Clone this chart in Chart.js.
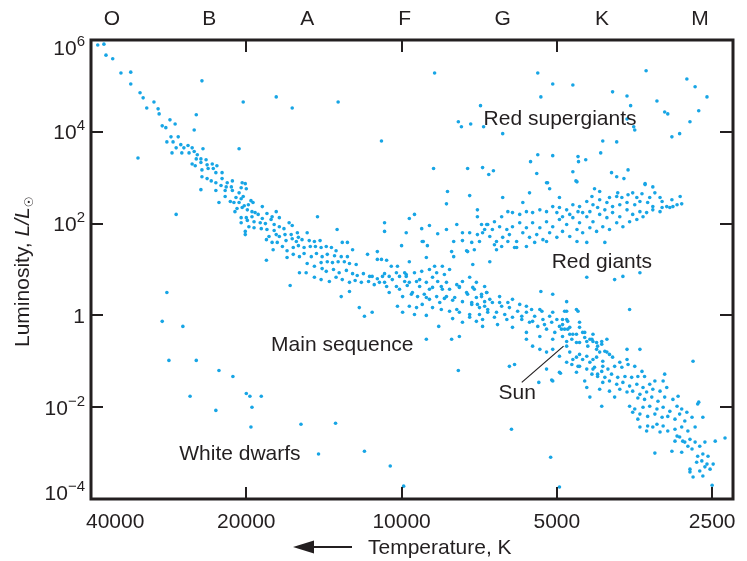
<!DOCTYPE html>
<html>
<head>
<meta charset="utf-8">
<title>Hertzsprung-Russell diagram</title>
<script src="https://cdn.jsdelivr.net/npm/chart.js@4.4.0/dist/chart.umd.min.js"></script>
<style>
  html, body { margin: 0; padding: 0; background: #fff; }
  canvas { display: block; }
</style>
</head>
<body>
<canvas id="hrChart" width="747" height="561"></canvas>
<script>
// Star positions, as [log10 T (K), log10 L/Lsun]

const upperMainSequence = [
  [4.589,5.89],[4.577,5.91],[4.573,5.67],[4.560,5.59],[4.544,5.28],[4.525,5.30],[4.525,5.04],[4.507,4.85],[4.501,4.74],[4.480,4.65],
  [4.494,4.52],[4.472,4.50],[4.470,4.39],[4.449,4.26],[4.439,4.17],[4.464,4.13],[4.457,4.09],
  [4.447,3.89],[4.433,3.89],[4.455,3.78],[4.443,3.78],[4.428,3.72],[4.414,3.70],[4.437,3.65],[4.422,3.65],[4.406,3.65],[4.445,3.54],
  [4.426,3.54],[4.412,3.54],[4.402,3.57],[4.385,3.63],[4.396,3.50],[4.398,3.41],[4.389,3.41],[4.379,3.39],[4.406,3.30],[4.400,3.26],
  [4.389,3.33],[4.377,3.28],[4.367,3.30],[4.358,3.26],[4.387,3.17],[4.375,3.20],[4.365,3.20],[4.360,3.11],[4.348,3.11],[4.387,3.02],
  [4.377,2.98],[4.369,2.93],[4.360,2.89],[4.348,2.98],[4.338,2.89],[4.328,2.93],[4.350,2.83],[4.340,2.80],[4.330,2.80],[4.309,2.89],
  [4.303,2.87],[4.311,2.78],[4.301,2.76],[4.360,2.72],[4.342,2.72],[4.328,2.72],[4.315,2.67],[4.342,2.59],[4.332,2.48],[4.321,2.57],
  [4.311,2.54],[4.307,2.59],[4.354,2.46],[4.325,2.46],[4.315,2.46],[4.305,2.39],[4.297,2.41],[4.292,2.50],[4.288,2.46],[4.319,2.33],
  [4.309,2.35],[4.299,2.30],[4.284,2.24],[4.270,2.37],[4.290,2.26],[4.323,2.26],[4.311,2.13],[4.301,2.13],[4.290,2.15],[4.278,2.20],
  [4.270,2.11],[4.261,2.22],[4.251,2.15],[4.243,2.26],[4.237,2.13],[4.311,2.02],[4.299,2.07],[4.286,2.04],[4.274,2.02],[4.264,2.00],
  [4.253,2.09],[4.247,1.98],[4.237,1.93],[4.228,1.89],[4.218,2.02],[4.212,1.96],[4.296,1.93],[4.303,1.83],[4.303,1.76],[4.286,1.91],
  [4.272,1.89],[4.261,1.87],[4.247,1.85],[4.257,1.72],[4.243,1.76],[4.237,1.72],[4.226,1.76],[4.214,1.76],[4.202,1.80],[4.183,1.80],
  [4.200,1.70],[4.262,1.65],[4.251,1.59],[4.241,1.59],[4.224,1.63],[4.212,1.67],[4.204,1.61],[4.193,1.65],[4.179,1.63],[4.169,1.61],
  [4.158,1.63],[4.249,1.43],[4.231,1.50],[4.222,1.41],[4.210,1.48],[4.200,1.52],[4.189,1.48],[4.177,1.50],[4.167,1.50],[4.156,1.48],
  [4.146,1.50],[4.136,1.48],[4.127,1.41],[4.115,1.59],[4.105,1.59],[4.222,1.26],[4.210,1.33],[4.198,1.28],[4.189,1.35],[4.175,1.28],
  [4.165,1.35],[4.154,1.28],[4.144,1.33],[4.130,1.30],[4.117,1.28],[4.105,1.28],[4.095,1.43],[4.156,1.15],[4.144,1.17],[4.134,1.15],
  [4.123,1.17],[4.111,1.17],[4.101,1.13],[4.088,1.11],[4.183,1.13],[4.169,1.07],[4.154,1.02],[4.146,0.96],[4.132,1.00],[4.121,0.93],
  [4.107,0.98],[4.095,0.91],[4.086,0.87],[4.074,0.91],[4.062,0.85],[4.057,0.85],[4.047,0.80],[4.037,0.85],[4.033,0.91],[4.198,0.93],
  [4.185,0.93],[4.169,0.83],[4.156,0.78],[4.140,0.74],[4.127,0.83],[4.115,0.78],[4.101,0.72],[4.090,0.76],[4.078,0.72],[4.064,0.74],
  [4.053,0.67],[4.043,0.72],[4.029,0.63],[4.216,0.65]
];

const middleMainSequence = [
  [4.008,1.07],[4.010,0.93],[4.024,0.85],[4.004,0.85],[3.991,0.89],[3.975,0.93],[3.961,0.96],[3.946,1.00],[3.932,0.93],[3.917,0.89],
  [3.907,1.00],[3.868,0.83],[3.882,0.74],[3.893,0.67],[3.855,0.72],[3.839,0.63],[4.010,0.63],[3.994,0.74],[3.989,0.65],[3.971,0.74],
  [3.965,0.63],[3.952,0.72],[3.940,0.61],[3.930,0.74],[3.921,0.57],[3.907,0.57],[3.888,0.61],[3.874,0.50],[3.859,0.57],[3.845,0.46],
  [3.835,0.50],[4.024,0.50],[3.998,0.41],[3.981,0.46],[3.969,0.41],[3.956,0.46],[3.946,0.35],[3.932,0.41],[3.917,0.37],[3.901,0.33],
  [3.882,0.30],[3.864,0.28],[3.853,0.24],[3.839,0.20],[4.008,0.20],[3.985,0.20],[3.971,0.17],[3.960,0.24],[3.940,0.17],[3.923,0.13],
  [3.907,0.09],[3.888,0.07],[3.868,0.02],[3.849,0.02],[3.833,0.07],[3.998,0.07],[3.975,0.02],[3.952,0.00],[3.928,-0.24],[3.901,-0.07],
  [3.882,-0.15],[3.855,-0.13],[3.843,-0.24],
  [3.824,0.28],[3.816,0.07],[3.806,0.20],[3.800,0.02],[3.791,0.17],[3.785,-0.04],[3.775,0.09],[3.767,-0.09],[3.758,0.07],[3.752,-0.15],
  [3.742,-0.02],[3.736,-0.24],[3.726,-0.09],[3.719,-0.30],[3.709,-0.15],[3.703,-0.37],[3.694,-0.24],[3.688,-0.46],[3.678,-0.30],[3.670,-0.52],
  [3.661,-0.41],[3.655,-0.59],[3.645,-0.48],[3.639,-0.67],[3.629,-0.57],[3.622,-0.74],[3.612,-0.63],[3.602,-0.80],[3.814,-0.20],[3.785,-0.26],
  [3.758,-0.37],[3.732,-0.46],[3.707,-0.52],[3.680,-0.67],[3.655,-0.85],[3.629,-0.96],[3.610,-1.11],[3.810,0.41],[3.785,0.35],[3.758,0.20],
  [3.732,0.13],[3.707,0.07],[3.680,-0.09],[3.655,-0.26],[3.629,-0.41],[3.602,-0.52],
  [4.020,1.07],[3.994,0.93],[3.985,0.72],[3.946,0.57],[3.923,0.63],[3.913,0.41],[3.897,0.39],[3.872,0.46],[3.864,0.24],[3.855,0.39],
  [3.849,0.17],[3.839,0.30],[3.833,0.13],[4.004,0.57],[3.979,0.50],[3.952,0.39],[3.926,0.28],[3.893,0.13],[3.868,-0.04],[3.843,-0.09],
  [4.033,0.72],[4.018,0.78],[3.991,0.85],[3.965,0.78],[3.940,0.83],[3.913,0.72],[3.888,0.63],[3.862,0.61],[3.835,0.50],
  [3.845,0.41],[3.829,0.35],[3.820,-0.04],[3.810,0.28],[3.796,-0.09],[3.794,0.28],[3.771,0.24],[3.767,-0.02],[3.748,0.13],[3.746,-0.13],
  [3.728,0.09],[3.723,-0.20],[3.713,-0.02],[3.699,-0.09],[3.690,-0.30],[3.688,-0.20],[3.674,-0.41],[3.680,-0.57],[3.661,-0.59],[3.649,-0.37],
  [3.635,-0.52],[3.622,-0.59],[3.616,-0.80],[3.641,-0.89],[3.668,-0.96],[3.758,-0.52],[3.746,-0.67],[3.732,-0.74],[3.719,-0.80],[3.707,-0.74],
  [3.694,-0.89],[3.680,-1.02],[3.655,-1.11],[3.629,-1.17],[3.620,-1.28],[3.707,0.46],[3.680,0.30],[3.684,0.09],[3.661,0.13],[3.655,-0.15],
  [3.730,0.52]
];

const lowerMainSequence = [
  [3.680,0.09],[3.658,0.09],[3.688,-0.09],[3.678,-0.13],[3.684,-0.30],[3.674,-0.26],[3.668,-0.41],[3.645,-0.37],[3.631,-0.52],[3.612,-0.57],
  [3.641,-0.57],[3.620,-0.67],[3.606,-0.78],[3.597,-0.85],[3.563,-0.74],[3.538,-0.74],[3.674,-0.80],[3.661,-0.91],[3.649,-0.96],[3.635,-1.02],
  [3.622,-0.91],[3.610,-1.00],[3.591,-0.91],[3.577,-1.02],[3.563,-0.96],[3.670,-1.07],[3.658,-1.11],[3.641,-1.17],[3.626,-1.13],[3.612,-1.22],
  [3.600,-1.17],[3.587,-1.11],[3.573,-1.13],[3.561,-1.07],[3.548,-1.11],[3.534,-1.22],[3.529,-1.33],[3.631,-1.28],[3.620,-1.33],[3.606,-1.35],
  [3.593,-1.28],[3.581,-1.35],[3.567,-1.33],[3.554,-1.35],[3.542,-1.33],[3.645,-1.43],[3.610,-1.46],[3.597,-1.43],[3.583,-1.50],[3.571,-1.46],
  [3.558,-1.54],[3.544,-1.50],[3.532,-1.57],[3.519,-1.50],[3.509,-1.43],[3.490,-1.28],[3.493,-1.43],[3.641,-1.57],[3.616,-1.61],[3.597,-1.65],
  [3.577,-1.61],[3.563,-1.67],[3.552,-1.65],[3.538,-1.72],[3.525,-1.67],[3.513,-1.61],[3.499,-1.65],[3.486,-1.57],[3.587,-1.78],[3.542,-1.80],
  [3.529,-1.83],[3.515,-1.78],[3.503,-1.87],[3.490,-1.78],[3.474,-1.83],[3.464,-1.76],[3.635,-1.78],[3.612,-1.98],[3.558,-1.98],[3.548,-2.04],
  [3.532,-2.00],[3.519,-1.98],[3.505,-2.04],[3.493,-2.00],[3.480,-2.09],[3.466,-1.98],[3.457,-2.04],[3.447,-2.11],[3.426,-1.93],[3.538,-2.15],
  [3.523,-2.20],[3.509,-2.15],[3.495,-2.22],[3.484,-2.20],[3.470,-2.26],[3.461,-2.15],[3.451,-2.30],[3.437,-2.22],[3.538,-2.43],[3.523,-2.41],
  [3.505,-2.37],[3.493,-2.41],[3.484,-2.52],[3.470,-2.48],[3.457,-2.43],[3.445,-2.52],[3.431,-2.43],[3.416,-2.22],[3.499,-2.54],[3.470,-2.74],
  [3.461,-2.65],[3.451,-2.76],[3.441,-2.70],[3.431,-2.76],[3.422,-2.85],[3.412,-2.76],[3.392,-2.74],[3.373,-2.67],[3.509,-3.00],[3.476,-2.96],
  [3.457,-2.98],[3.437,-2.91],[3.426,-3.07],[3.416,-3.02],[3.406,-3.07],[3.428,-3.20],[3.418,-3.17],[3.408,-3.24],[3.396,-3.24],[3.441,-3.35],
  [3.422,-3.39],[3.412,-3.30],[3.441,-3.41],[3.435,-3.52],[3.416,-3.50],[3.398,-3.70],[3.402,-3.35],
  [3.734,-1.46],[3.707,-1.43],[3.692,-1.26],[3.661,-1.24],[3.552,-2.11],[3.542,-2.26],[3.525,-2.52],[3.513,-2.43],[3.466,-2.63],[3.455,-2.74],
  [3.445,-2.85],[3.424,-1.89]
];

const redGiants = [
  [3.717,2.89],[3.660,2.91],[3.713,2.76],[3.752,2.67],[3.804,2.57],[3.765,2.46],[3.694,2.57],[3.626,2.76],[3.616,2.70],[3.631,2.59],
  [3.583,2.59],[3.573,2.57],[3.552,2.67],[3.534,2.65],[3.528,2.85],[3.513,2.80],[3.509,2.67],[3.499,2.57],[3.460,2.59],[3.457,2.43],
  [3.474,2.37],[3.480,2.35],[3.495,2.35],[3.513,2.37],[3.523,2.46],[3.538,2.48],[3.548,2.41],[3.563,2.46],[3.577,2.41],[3.591,2.37],
  [3.602,2.46],[3.616,2.52],[3.629,2.41],[3.641,2.48],[3.655,2.37],[3.668,2.41],[3.680,2.30],[3.694,2.35],[3.707,2.37],[3.719,2.26],
  [3.732,2.30],[3.746,2.24],[3.758,2.26],[3.771,2.20],[3.785,2.24],[3.794,2.26],[3.806,2.15],[3.820,2.04],[3.833,1.98],[3.845,1.98],
  [3.843,1.80],[3.824,1.87],[3.810,1.93],[3.796,1.87],[3.785,1.93],[3.771,2.02],[3.758,1.91],[3.746,2.02],[3.732,1.91],[3.719,2.04],
  [3.707,1.93],[3.694,2.09],[3.680,1.98],[3.668,2.13],[3.655,2.02],[3.641,2.15],[3.629,2.04],[3.616,2.20],[3.602,2.13],[3.591,2.24],
  [3.577,2.15],[3.563,2.30],[3.552,2.20],[3.538,2.26],[3.525,2.24],[3.513,2.30],[3.499,2.26],[3.829,1.72],[3.816,1.61],[3.804,1.70],
  [3.791,1.76],[3.777,1.61],[3.765,1.80],[3.752,1.70],[3.738,1.76],[3.726,1.65],[3.713,1.80],[3.699,1.70],[3.688,1.83],[3.674,1.72],
  [3.660,1.87],[3.649,1.80],[3.635,1.91],[3.622,1.83],[3.610,1.93],[3.597,1.87],[3.583,2.02],[3.571,1.93],[3.558,2.04],[3.544,2.09],
  [3.532,2.15],[3.816,1.43],[3.781,1.48],[3.606,1.59],[3.641,1.59],[3.829,1.17],[3.641,0.83],[3.587,0.78],[3.571,0.85],[3.538,0.93],
  [3.486,2.37],[3.476,2.52],[3.466,2.41],[3.495,2.48],[3.519,2.57],[3.544,2.57],[3.561,2.63],[3.581,2.67],[3.597,2.57],[3.606,2.30],
  [3.620,2.35],[3.635,2.26],[3.649,2.24],[3.658,2.26],[3.674,2.20],[3.688,2.15],[3.699,2.24],
  [4.033,2.02],[4.033,1.83],[3.991,1.80],[3.975,2.20],[3.985,2.11],[3.961,1.89],[3.946,1.96],[3.958,1.61],[3.930,1.78],[3.911,2.70],
  [3.913,2.43],[3.868,2.61],[3.835,1.98],[3.853,2.15],[3.853,2.30],[3.893,1.98],[3.913,1.87],[3.882,1.80],[3.868,1.80],[3.853,1.76],
  [3.839,1.87],[3.899,1.61],[3.882,1.63],[3.864,1.59],[3.849,1.61],[3.950,1.52],[4.000,1.52],[3.903,1.39],[3.874,1.41],[3.859,1.43],
  [3.899,1.28],[3.985,1.17],[3.952,1.26],[3.936,1.07],[3.921,1.07],[4.047,1.39],[4.029,1.20],[4.039,1.22],
  [3.960,1.61],[3.872,1.39],[3.862,1.11],[3.820,1.54],[3.806,1.50],[3.777,1.48],[3.794,1.61],[3.758,1.50],[3.742,1.59],[3.719,1.61],
  [3.660,1.61]
];

const redSupergiants = [
  [3.936,5.28],[3.847,4.57],[3.890,4.22],[3.884,4.11],[3.866,4.17],[3.841,4.11],[3.938,3.20],[3.872,3.20],[3.843,3.22],[3.831,3.07],
  [3.736,5.28],[3.707,5.04],[3.668,5.02],[3.730,4.76],[3.804,3.96],[3.591,4.87],[3.563,4.78],[3.556,4.57],[3.526,5.33],[3.505,4.67],
  [3.490,4.43],[3.484,4.39],[3.447,5.15],[3.431,4.98],[3.408,4.76],[3.424,4.46],[3.441,4.22],[3.563,4.28],[3.550,4.11],[3.548,4.04],
  [3.610,3.80],[3.583,3.78],[3.476,3.89],[3.461,3.96],[3.736,3.50],[3.707,3.48],[3.658,3.46],[3.657,3.35],[3.643,3.39],[3.614,3.54],
  [3.750,3.35],[3.822,3.15],[3.738,3.09],[3.719,2.89],[3.668,3.13],[3.662,2.93],[3.593,3.11],[3.583,3.02],[3.569,2.98],[3.561,3.17],
  [3.528,2.87]
];

const scatteredStars = [
  [4.387,5.11],[4.398,4.37],[4.402,4.04],[4.511,3.43],[4.389,2.74],[4.437,2.20],
  [4.307,4.65],[4.243,4.76],[4.212,4.52],[4.123,4.65],[4.315,3.63],[4.039,3.80],
  [4.163,2.15],[4.125,1.87],[4.262,1.20],[4.117,0.41],[4.101,0.52],[4.072,-0.02],[4.057,0.07],[4.082,0.17],
  [4.066,1.33],[4.047,1.22],[3.903,-0.52],[3.888,-0.46],[3.952,-0.52],[3.791,-1.11],[3.781,-1.07],[3.719,-1.17],
  [3.709,-1.41],[3.694,-1.24],[3.890,-1.20],[3.558,0.13],[3.435,-1.00]
];

const whiteDwarfs = [
  [4.455,0.50],[4.464,-0.13],[4.424,-0.24],[4.451,-0.98],[4.398,-0.98],[4.354,-1.20],[4.327,-1.33],[4.410,-1.76],
  [4.360,-2.07],[4.301,-1.70],[4.294,-1.76],[4.272,-1.76],[4.290,-2.00],[4.292,-2.43],[4.195,-2.37],[4.128,-2.35],
  [4.161,-3.02],[4.072,-2.96],[4.022,-3.28],[3.996,-3.72],[3.787,-2.48],[3.711,-3.09],[3.694,-3.74]
];

// axes
const tempTicks = [40000, 20000, 10000, 5000, 2500];
const bottomTickMarks = [20000, 10000, 5000, 2500];
const topTickMarks = [20000, 10000, 5000];
const lumExponents = [6, 4, 2, 0, -2, -4];
const spectralClasses = ['O', 'B', 'A', 'F', 'G', 'K', 'M'];
const spectralTemps = [36450, 23600, 15240, 9860, 6370, 4090, 2640];

// region names: [text, log10 T at left edge, log10 L at baseline]
const regionLabels = [
  ['Red supergiants', 3.841, 4.14],
  ['Red giants', 3.709, 1.04],
  ['Main sequence', 4.253, -0.78],
  ['White dwarfs', 4.431, -3.15],
  ['Sun', 3.812, -1.83]
];
const sunPointer = [[3.767, -1.46], [3.686, -0.67]];

const DOT = '#17a5e5';
const INK = '#231f20';
const FONT = '"Liberation Sans", Arial, Helvetica, "DejaVu Sans", sans-serif';

const toPoints = arr => arr.map(([lt, ll]) => ({ x: Math.pow(10, lt), y: Math.pow(10, ll) }));

const groups = [upperMainSequence, middleMainSequence, lowerMainSequence,
                redGiants, redSupergiants, scatteredStars, whiteDwarfs];

// frame, inward ticks, labels and annotations
const hrDecor = {
  id: 'hrDecor',
  afterDatasetsDraw(chart) {
    const { ctx, chartArea: a, scales: { x, y } } = chart;
    ctx.save();

    // Sun pointer
    ctx.strokeStyle = INK;
    ctx.lineWidth = 1.2;
    ctx.beginPath();
    ctx.moveTo(x.getPixelForValue(Math.pow(10, sunPointer[0][0])), y.getPixelForValue(Math.pow(10, sunPointer[0][1])));
    ctx.lineTo(x.getPixelForValue(Math.pow(10, sunPointer[1][0])), y.getPixelForValue(Math.pow(10, sunPointer[1][1])));
    ctx.stroke();

    // frame
    ctx.lineWidth = 3;
    ctx.strokeRect(a.left, a.top, a.right - a.left, a.bottom - a.top);

    // inward tick marks
    ctx.lineWidth = 2;
    ctx.beginPath();
    bottomTickMarks.forEach(t => {
      const px = Math.round(x.getPixelForValue(t));
      ctx.moveTo(px, a.bottom); ctx.lineTo(px, a.bottom - 12);
    });
    topTickMarks.forEach(t => {
      const px = Math.round(x.getPixelForValue(t));
      ctx.moveTo(px, a.top); ctx.lineTo(px, a.top + 12);
    });
    lumExponents.slice(1, -1).forEach(e => {
      const py = Math.round(y.getPixelForValue(Math.pow(10, e)));
      ctx.moveTo(a.left, py); ctx.lineTo(a.left + 12, py);
      ctx.moveTo(a.right, py); ctx.lineTo(a.right - 13, py);
    });
    ctx.stroke();

    ctx.fillStyle = INK;
    ctx.textBaseline = 'alphabetic';

    // bottom temperature labels
    ctx.font = '21px ' + FONT;
    ctx.textAlign = 'left';
    tempTicks.forEach(t => {
      const label = String(t);
      const w = ctx.measureText(label).width;
      const px = x.getPixelForValue(t);
      const left = Math.max(px - w / 2, a.left - 5);
      ctx.fillText(label, left, a.bottom + 29);
    });

    // spectral classes on top
    ctx.textAlign = 'center';
    spectralClasses.forEach((c, i) => {
      ctx.fillText(c, x.getPixelForValue(spectralTemps[i]), a.top - 15);
    });

    // luminosity labels with superscript exponents
    ctx.textAlign = 'right';
    const rightEdge = a.left - 6;
    lumExponents.forEach(e => {
      const py = y.getPixelForValue(Math.pow(10, e));
      const yc = Math.min(Math.max(py, a.top + 7), a.bottom - 7);
      if (e === 0) {
        ctx.font = '21px ' + FONT;
        ctx.fillText('1', rightEdge, yc + 7.5);
        return;
      }
      const exp = e < 0 ? '\u2212' + (-e) : String(e);
      ctx.font = '15px ' + FONT;
      const w = ctx.measureText(exp).width;
      ctx.fillText(exp, rightEdge, yc - 1.5);
      ctx.font = '21px ' + FONT;
      ctx.fillText('10', rightEdge - w, yc + 7.5);
    });

    // y axis title
    ctx.save();
    ctx.translate(29, 347);
    ctx.rotate(-Math.PI / 2);
    ctx.textAlign = 'left';
    ctx.font = '21px ' + FONT;
    const part1 = 'Luminosity, ';
    ctx.fillText(part1, 0, 0);
    let cx = ctx.measureText(part1).width;
    ctx.font = 'italic 21px ' + FONT;
    ctx.fillText('L/L', cx, 0);
    cx += ctx.measureText('L/L').width;
    ctx.font = '12px "DejaVu Sans", ' + FONT;
    ctx.fillText('\u2609', cx, 4);
    ctx.restore();

    // x axis title with arrow
    ctx.textAlign = 'left';
    ctx.font = '21px ' + FONT;
    ctx.fillText('Temperature, K', 368, 554);
    ctx.lineWidth = 2;
    ctx.beginPath();
    ctx.moveTo(310, 547); ctx.lineTo(352, 547);
    ctx.stroke();
    ctx.beginPath();
    ctx.moveTo(293, 547); ctx.lineTo(314, 540.5); ctx.lineTo(314, 553.5);
    ctx.closePath();
    ctx.fill();

    // region names
    regionLabels.forEach(([text, lt, ll]) => {
      ctx.fillText(text, x.getPixelForValue(Math.pow(10, lt)), y.getPixelForValue(Math.pow(10, ll)));
    });

    ctx.restore();
  }
};

new Chart(document.getElementById('hrChart'), {
  type: 'scatter',
  data: {
    datasets: groups.map(g => ({
      data: toPoints(g),
      pointRadius: 1.8,
      pointHoverRadius: 1.8,
      pointBorderWidth: 0,
      pointBackgroundColor: DOT
    }))
  },
  options: {
    responsive: false,
    animation: false,
    layout: { padding: { left: 91, top: 40, right: 14, bottom: 62 } },
    plugins: { legend: { display: false }, tooltip: { enabled: false } },
    scales: {
      x: { type: 'logarithmic', reverse: true, min: 2278, max: 40000, display: false },
      y: { type: 'logarithmic', min: 1e-4, max: 1e6, display: false }
    }
  },
  plugins: [hrDecor]
});
</script>
</body>
</html>
